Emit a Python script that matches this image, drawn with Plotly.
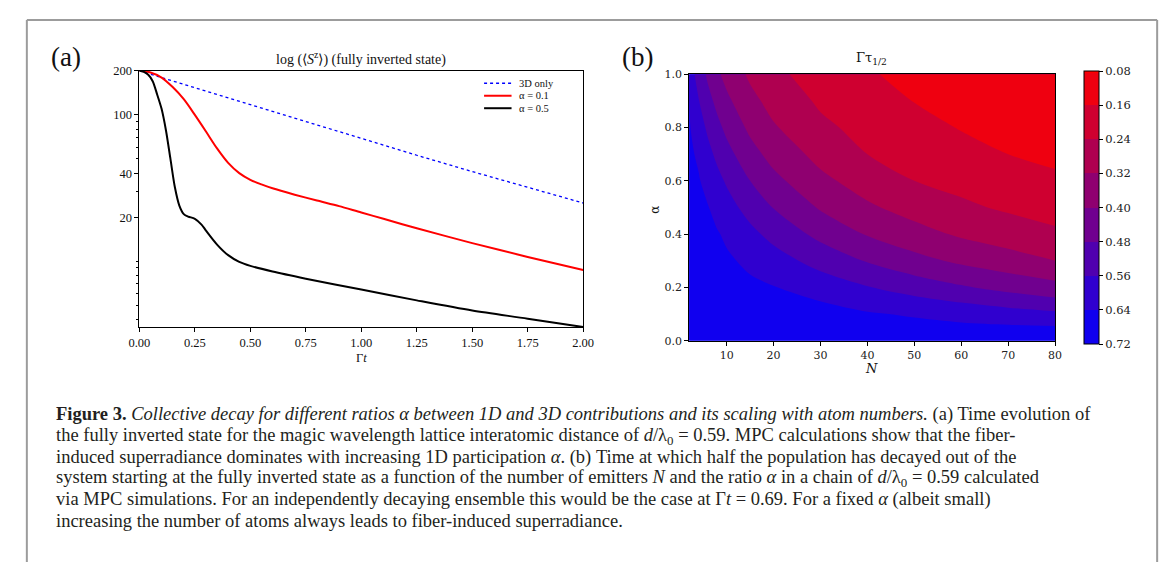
import numpy as np
import plotly.graph_objects as go

W, H = 1168, 562

# ---- panel (a): log <S^z> for the fully inverted state ----
t_3d = [0.0, 0.25, 0.5, 0.75, 1.0, 1.25, 1.5, 1.75, 2.0]
s_3d = [200, 153, 117, 90, 69, 53, 41, 32, 25]

t_a01 = [0.0, 0.05, 0.1, 0.15, 0.2, 0.25, 0.3, 0.35, 0.4, 0.45, 0.5, 0.55,
         0.6, 0.7, 0.8, 0.9, 1.0, 1.1, 1.25, 1.5, 1.75, 2.0]
s_a01 = [200, 195, 180, 155, 128, 100, 77, 59, 47, 40, 36, 33.5,
         31.5, 28.5, 26, 23.8, 21.5, 19.5, 16.8, 13.3, 10.7, 8.7]

t_a05 = [0.0, 0.02, 0.04, 0.06, 0.08, 0.1, 0.12, 0.14, 0.16, 0.18, 0.2, 0.22,
         0.25, 0.28, 0.3, 0.35, 0.4, 0.45, 0.5, 0.6, 0.75, 1.0, 1.25, 1.5, 1.75, 2.0]
s_a05 = [200, 197, 188, 170, 138, 110, 78, 50, 32, 24, 21, 20.2,
         19.5, 17.8, 16.2, 13, 11, 9.9, 9.3, 8.5, 7.6, 6.4, 5.4, 4.6, 4.05, 3.55]

names_a = ["3D only", "α = 0.1", "α = 0.5"]
x_ticks_a = [0.0, 0.25, 0.5, 0.75, 1.0, 1.25, 1.5, 1.75, 2.0]
y_ticks_a = [20, 40, 100, 200]
y_minor_a = [4, 5, 6, 7, 8, 9, 10, 30, 50, 60, 70, 80, 90]

# ---- panel (b): Gamma tau_1/2 over N and alpha ----
N_vals = [2, 4, 6, 8, 10, 15, 20, 30, 40, 50, 60, 70, 80]
alpha_vals = [0.0, 0.05, 0.1, 0.15, 0.2, 0.3, 0.4, 0.5, 0.6, 0.7, 0.8, 0.9, 1.0]
tau_half = [
    [0.700, 0.700, 0.700, 0.695, 0.695, 0.690, 0.690, 0.685, 0.685, 0.680, 0.680, 0.680, 0.680],
    [0.697, 0.696, 0.694, 0.689, 0.688, 0.681, 0.678, 0.670, 0.666, 0.659, 0.655, 0.651, 0.647],
    [0.693, 0.691, 0.689, 0.682, 0.680, 0.672, 0.667, 0.655, 0.646, 0.633, 0.614, 0.594, 0.576],
    [0.690, 0.687, 0.683, 0.676, 0.673, 0.662, 0.655, 0.639, 0.609, 0.579, 0.551, 0.523, 0.496],
    [0.687, 0.682, 0.677, 0.670, 0.665, 0.653, 0.643, 0.604, 0.564, 0.525, 0.489, 0.456, 0.427],
    [0.680, 0.673, 0.666, 0.657, 0.650, 0.626, 0.593, 0.531, 0.474, 0.425, 0.385, 0.352, 0.320],
    [0.674, 0.664, 0.654, 0.645, 0.629, 0.580, 0.536, 0.457, 0.394, 0.348, 0.309, 0.281, 0.253],
    [0.667, 0.655, 0.643, 0.617, 0.590, 0.531, 0.477, 0.392, 0.332, 0.290, 0.254, 0.229, 0.210],
    [0.660, 0.646, 0.615, 0.581, 0.551, 0.480, 0.421, 0.339, 0.284, 0.240, 0.217, 0.194, 0.171],
    [0.654, 0.629, 0.582, 0.543, 0.506, 0.429, 0.372, 0.295, 0.240, 0.212, 0.185, 0.160, 0.146],
    [0.647, 0.597, 0.546, 0.501, 0.461, 0.383, 0.328, 0.256, 0.216, 0.185, 0.156, 0.140, 0.127],
    [0.641, 0.564, 0.506, 0.458, 0.416, 0.343, 0.292, 0.228, 0.192, 0.158, 0.136, 0.122, 0.112],
    [0.607, 0.526, 0.465, 0.413, 0.376, 0.306, 0.257, 0.207, 0.167, 0.140, 0.118, 0.106, 0.100],
]
levels_b = [0.08, 0.16, 0.24, 0.32, 0.40, 0.48, 0.56, 0.64, 0.72]
x_ticks_b = [10, 20, 30, 40, 50, 60, 70, 80]
y_ticks_b = [0.0, 0.2, 0.4, 0.6, 0.8, 1.0]

caption_lines = [
    "<b>Figure 3.</b> <i>Collective decay for different ratios α between 1D and 3D contributions and its scaling with atom numbers.</i> (a) Time evolution of",
    "the fully inverted state for the magic wavelength lattice interatomic distance of <i>d</i>/λ<sub>0</sub> = 0.59. MPC calculations show that the fiber-",
    "induced superradiance dominates with increasing 1D participation <i>α</i>. (b) Time at which half the population has decayed out of the",
    "system starting at the fully inverted state as a function of the number of emitters <i>N</i> and the ratio <i>α</i> in a chain of <i>d</i>/λ<sub>0</sub> = 0.59 calculated",
    "via MPC simulations. For an independently decaying ensemble this would be the case at Γ<i>t</i> = 0.69. For a fixed <i>α</i> (albeit small)",
    "increasing the number of atoms always leads to fiber-induced superradiance.",
]


def px(x):
    return x / W


def py(y):
    return 1 - y / H


SERIF_A = "Liberation Serif"
SERIF_B = "DejaVu Serif"

fig = go.Figure()

line_styles = [
    dict(color="#0000ff", width=1.3, dash="dot"),
    dict(color="#ff0000", width=2, shape="spline", smoothing=0.8),
    dict(color="#000000", width=2, shape="spline", smoothing=0.8),
]
for t, s, name, ls in zip([t_3d, t_a01, t_a05], [s_3d, s_a01, s_a05], names_a, line_styles):
    fig.add_trace(go.Scatter(x=t, y=s, mode="lines", name=name, line=ls, showlegend=False))

z_neg = -np.array(tau_half)
fig.add_trace(go.Contour(
    x=N_vals, y=alpha_vals, z=z_neg,
    xaxis="x2", yaxis="y2",
    zmin=-levels_b[-1], zmax=-levels_b[0],
    contours=dict(start=-levels_b[-1], end=-levels_b[0], size=0.08,
                  coloring="fill", showlines=False),
    colorscale=[[0, "#0000ff"], [1, "#ff0000"]],
    line=dict(width=0, smoothing=0.9),
    showlegend=False,
    hoverinfo="skip",
    colorbar=dict(
        x=px(1085), xanchor="left", xpad=0,
        y=py(197.5), yanchor="middle", ypad=0,
        len=273, lenmode="pixels", thickness=15, thicknessmode="pixels",
        outlinewidth=1, outlinecolor="black",
        tickvals=[-v for v in levels_b],
        ticktext=[f"{v:.2f}" for v in levels_b],
        ticks="outside", ticklen=4, tickcolor="black",
        tickfont=dict(family=SERIF_B, size=11.5, color="#222"),
    ),
))

axis_common = dict(showline=True, linecolor="black", linewidth=1, mirror=True,
                   ticks="outside", tickcolor="black", showgrid=False, zeroline=False)

annotations = [
    dict(text="(a)", x=px(48), y=py(43), font=dict(family=SERIF_A, size=27, color="#111")),
    dict(text="(b)", x=px(630), y=py(43), font=dict(family=SERIF_A, size=27, color="#111")),
    dict(text="log (⟨<i>S</i><sup>z</sup>⟩) (fully inverted state)", x=px(349), y=py(45),
         font=dict(family=SERIF_A, size=14, color="#111")),
    dict(text="Γτ<sub>1/2</sub>", x=px(869), y=py(45),
         font=dict(family=SERIF_B, size=13, color="#111")),
    dict(text="Γ<i>t</i>", x=px(349), y=py(352),
         font=dict(family=SERIF_A, size=12.5, color="#111")),
    dict(text="<i>N</i>", x=px(869), y=py(363),
         font=dict(family=SERIF_B, size=13, color="#111")),
    dict(text="α", x=px(648), y=py(200), textangle=-90,
         font=dict(family=SERIF_B, size=12, color="#111")),
]
for a in annotations:
    a.update(xref="paper", yref="paper", showarrow=False, xanchor="center", yanchor="middle")

shapes = []
# legend of panel (a), drawn by hand for a compact matplotlib-like look
for i, (name, ls) in enumerate(zip(names_a, line_styles)):
    yrow = py(70 + 12.8 * i)
    shapes.append(dict(type="line", xref="paper", yref="paper",
                       x0=px(474), x1=px(502), y0=yrow, y1=yrow,
                       line=dict(color=ls["color"], width=ls["width"], dash=ls.get("dash", "solid"))))
    annotations.append(dict(text=name, xref="paper", yref="paper", x=px(508), y=yrow,
                            xanchor="left", yanchor="middle", showarrow=False,
                            font=dict(family=SERIF_A, size=10.5, color="#111")))

for i, line in enumerate(caption_lines):
    annotations.append(dict(
        text=line, xref="paper", yref="paper", x=px(36), y=py(410 + 21.8 * i),
        xanchor="left", yanchor="middle", showarrow=False, align="left",
        font=dict(family=SERIF_A, size=18.5, color="#231f20"),
    ))

frame = dict(type="line", xref="paper", yref="paper",
             line=dict(color="#9c9c9c", width=2))
shapes += [
    dict(frame, x0=px(8), x1=px(8), y0=py(5), y1=py(562)),
    dict(frame, x0=px(8), x1=px(1160), y0=py(5), y1=py(5)),
    dict(frame, x0=px(1160), x1=px(1160), y0=py(5), y1=py(562)),
]

fig.update_layout(
    width=W, height=H,
    margin=dict(l=0, r=0, t=0, b=0),
    paper_bgcolor="white", plot_bgcolor="white",
    font=dict(family=SERIF_A, color="#111"),
    showlegend=False,
    xaxis=dict(axis_common, domain=[px(122.7), px(575)], range=[0, 2],
               tickvals=x_ticks_a, tickformat=".2f", ticklen=4,
               tickfont=dict(family=SERIF_A, size=12.5)),
    yaxis=dict(axis_common, domain=[py(320), py(57.3)], type="log",
               range=[np.log10(3.55), np.log10(200)],
               tickvals=y_ticks_a, ticktext=[str(v) for v in y_ticks_a], ticklen=4,
               tickfont=dict(family=SERIF_A, size=12.5),
               minor=dict(tickmode="array", tickvals=y_minor_a, ticks="outside",
                          ticklen=2, tickcolor="black")),
    xaxis2=dict(axis_common, domain=[px(683), px(1056)], range=[2, 80], anchor="y2",
                tickvals=x_ticks_b, ticklen=4,
                tickfont=dict(family=SERIF_B, size=11, color="#222")),
    yaxis2=dict(axis_common, domain=[py(334), py(60.7)], range=[0, 1], anchor="x2",
                tickvals=y_ticks_b, tickformat=".1f", ticklen=4,
                tickfont=dict(family=SERIF_B, size=11, color="#222")),
    annotations=annotations,
    shapes=shapes,
    hovermode=False,
)

fig.write_html("out.html", config=dict(displayModeBar=False))
